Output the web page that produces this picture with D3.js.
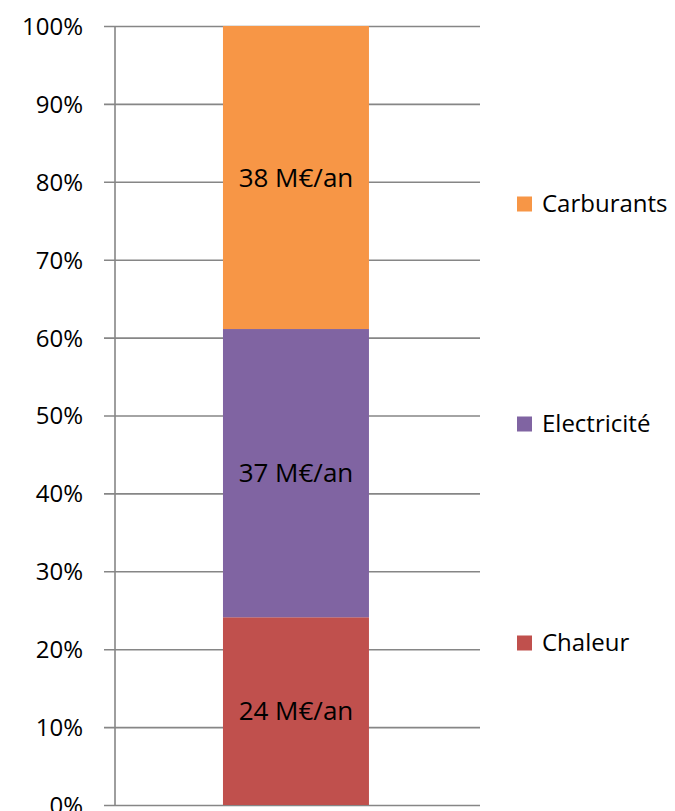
<!DOCTYPE html>
<html>
<head>
<meta charset="utf-8">
<script src="https://cdn.jsdelivr.net/npm/d3@7"></script>
<style>
  html, body { margin: 0; padding: 0; background: #fff; }
  svg { display: block; }
  text { font-family: "Open Sans", "DejaVu Sans", sans-serif; fill: #000; }
</style>
</head>
<body>
<svg id="chart" width="675" height="811"></svg>
<script>
// ---- data ----
const categories = ["Chaleur", "Electricité", "Carburants"];
const shares = [24.1, 37.0, 38.9];           // % of total (stacked to 100%)
const valueLabels = ["24 M€/an", "37 M€/an", "38 M€/an"];
const colors = ["#C0504D", "#8064A2", "#F79646"];
const tickValues = [0, 10, 20, 30, 40, 50, 60, 70, 80, 90, 100];
const barName = ["Total"];

// ---- layout ----
const svg = d3.select("#chart");
const plotLeft = 115, plotRight = 480, plotTop = 26, plotBottom = 805;

const y = d3.scaleLinear().domain([0, 100]).range([plotBottom, plotTop]);
const x = d3.scaleBand().domain(barName).range([plotLeft, plotRight])
  .paddingInner(0.4286).paddingOuter(0.4286).align(0.493);

// gridlines + ticks
const yAxis = d3.axisLeft(y)
  .tickValues(tickValues)
  .tickSize(-(plotRight - plotLeft))
  .tickSizeOuter(0)
  .tickPadding(20)
  .tickFormat(d => d + "%");

const gAxis = svg.append("g")
  .attr("transform", `translate(${plotLeft},0)`)
  .call(yAxis);
gAxis.select(".domain").remove();
gAxis.selectAll(".tick line")
  .attr("x1", -11)
  .attr("stroke", "#868686")
  .attr("stroke-width", 1.6);
gAxis.selectAll(".tick text")
  .attr("x", -32)
  .attr("dy", "0.35em")
  .attr("text-anchor", "end")
  .style("font-size", "24px")
  .style("font-family", "'Open Sans', sans-serif")
  .attr("fill", "#000");

// stacked segments
let cum = 0;
const segs = shares.map((s, i) => {
  const seg = { name: categories[i], y0: cum, y1: cum + s, label: valueLabels[i], color: colors[i] };
  cum += s;
  return seg;
});

const bx = x("Total"), bw = x.bandwidth();
svg.append("g").selectAll("rect")
  .data(segs)
  .join("rect")
  .attr("x", bx)
  .attr("width", bw)
  .attr("y", d => y(d.y1))
  .attr("height", d => y(d.y0) - y(d.y1))
  .attr("fill", d => d.color);

// vertical axis line
svg.append("line")
  .attr("x1", plotLeft).attr("x2", plotLeft)
  .attr("y1", plotTop).attr("y2", plotBottom)
  .attr("stroke", "#868686")
  .attr("stroke-width", 1.6);

// segment labels
svg.append("g").selectAll("text")
  .data(segs)
  .join("text")
  .attr("x", bx + bw / 2)
  .attr("y", d => (y(d.y0) + y(d.y1)) / 2)
  .attr("dy", "0.35em")
  .attr("text-anchor", "middle")
  .style("font-size", "26px")
  .text(d => d.label);

// legend (top to bottom: Carburants, Electricité, Chaleur)
const legendY = { "Carburants": 204, "Electricité": 424, "Chaleur": 643 };
const leg = svg.append("g").selectAll("g")
  .data(segs)
  .join("g")
  .attr("transform", d => `translate(517,${legendY[d.name]})`);
leg.append("rect")
  .attr("x", 0).attr("y", -7.5)
  .attr("width", 15).attr("height", 15)
  .attr("fill", d => d.color);
leg.append("text")
  .attr("x", 25)
  .attr("y", 0)
  .attr("dy", "0.35em")
  .style("font-size", "24px")
  .text(d => d.name);
</script>
</body>
</html>
